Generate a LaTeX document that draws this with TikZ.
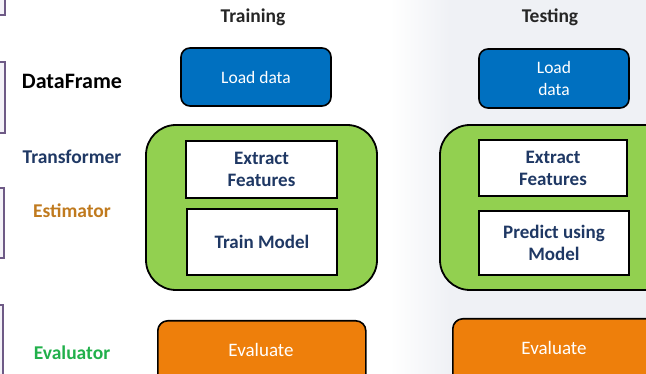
\documentclass[tikz,border=0pt]{standalone}
\usepackage{fontspec}
\setmainfont{Carlito}
\definecolor{navy}{HTML}{1F3864}
\definecolor{loadblue}{HTML}{0070C0}
\definecolor{leafgreen}{HTML}{92D050}
\definecolor{evalorange}{HTML}{EE7F0B}
\definecolor{estbrown}{HTML}{C07A1E}
\definecolor{evalgreen}{HTML}{21B04B}
\definecolor{sidepurple}{HTML}{6E5A86}
\definecolor{sidefill}{HTML}{F4F2F8}
\definecolor{bggray}{HTML}{EFF1F5}
\tikzset{
  headlbl/.style={font=\bfseries\fontsize{19.5}{22}\selectfont, text=black!85},
  sidelbl/.style={font=\bfseries\fontsize{19.5}{22}\selectfont},
  loadbox/.style={draw=black, line width=1.6pt, fill=loadblue, rounded corners=9pt, text=white,
    font=\fontsize{17.5}{22}\selectfont, align=center, inner sep=0pt},
  groupbox/.style={draw=black, line width=1.8pt, fill=leafgreen, rounded corners=30pt},
  stepbox/.style={draw=black, line width=2pt, fill=white, text=navy,
    font=\bfseries\fontsize{19}{22}\selectfont, align=center, inner sep=0pt},
  evalbox/.style={draw=black, line width=1.6pt, fill=evalorange, rounded corners=10pt, text=white,
    font=\fontsize{19}{22}\selectfont, inner sep=0pt},
  evaltxt/.style={text=white, font=\fontsize{19}{22}\selectfont},
  sidebox/.style={draw=sidepurple, line width=1.5pt, fill=sidefill},
}
\begin{document}
\begin{tikzpicture}[x=1pt,y=-1pt]
\useasboundingbox (0,0) rectangle (646,374);
\clip (0,0) rectangle (646,374);
% faint background on the right
\shade[left color=white, right color=bggray] (390,0) rectangle (450,374);
\fill[bggray] (450,0) rectangle (646,374);
% side partial boxes
\draw[sidebox] (-20,-20) rectangle (5,15);
\draw[sidebox] (-20,62) rectangle (5,133);
\draw[sidebox] (-20,188) rectangle (4,258);
\draw[sidebox] (-20,305) rectangle (3,390);
% side labels
\node[sidelbl, text=black, font=\bfseries\fontsize{22}{24}\selectfont] (lblDF) at (72,81) {DataFrame};
\node[sidelbl, text=navy] (lblTr) at (72,157) {Transformer};
\node[sidelbl, text=estbrown] (lblEs) at (72,211) {Estimator};
\node[sidelbl, text=evalgreen] (lblEv) at (72,353) {Evaluator};
% headers
\node[headlbl] (hTrain) at (253,17) {Training};
\node[headlbl] (hTest) at (550,17) {Testing};
% training column
\node[loadbox, minimum width=150pt, minimum height=58pt] (loadTr) at (256,77) {Load data};
\draw[groupbox] (146,125) rectangle (377,290);
\node[stepbox, minimum width=151pt, minimum height=57pt] (extTr) at (261.5,169.5) {Extract\\Features};
\node[stepbox, minimum width=150pt, minimum height=66pt] (trainTr) at (262,242) {Train Model};
\node[evalbox, minimum width=208pt, minimum height=70pt, anchor=north west] (evalTr) at (157,320) {};
\node[evaltxt] (evalTrTxt) at (261,350) {Evaluate};
% testing column
\node[loadbox, minimum width=150pt, minimum height=59pt] (loadTe) at (554,78.5) {Load\\data};
\draw[groupbox] (440,125) rectangle (700,290);
\node[stepbox, minimum width=148pt, minimum height=56pt] (extTe) at (553,168) {Extract\\Features};
\node[stepbox, minimum width=150pt, minimum height=64pt] (predTe) at (554,243) {Predict using\\Model};
\node[evalbox, minimum width=240pt, minimum height=72pt, anchor=north west] (evalTe) at (452,318) {};
\node[evaltxt] (evalTeTxt) at (554,348) {Evaluate};
\end{tikzpicture}
\end{document}
